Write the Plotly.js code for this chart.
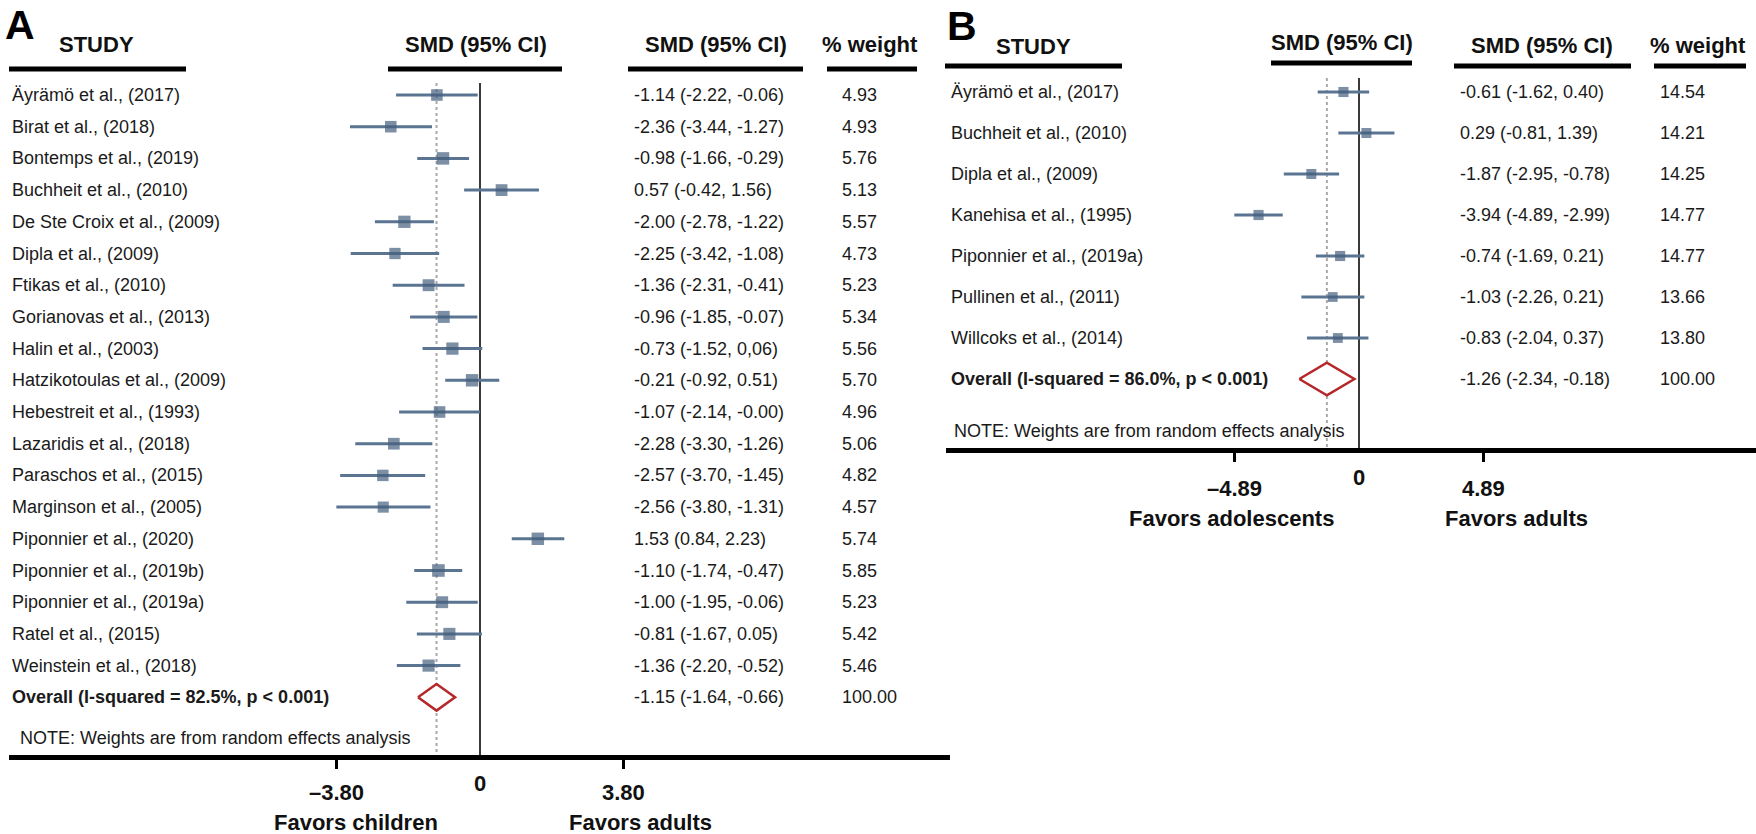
<!DOCTYPE html>
<html><head><meta charset="utf-8">
<script src="https://cdn.plot.ly/plotly-3.0.1.min.js"></script>
<style>html,body{margin:0;padding:0;background:#fff}#chart{width:1756px;height:834px}</style>
</head><body><div id="chart"></div>
<script>
// ---------------- Panel A data ----------------
const studiesA = ["Äyrämö et al., (2017)","Birat et al., (2018)","Bontemps et al., (2019)","Buchheit et al., (2010)","De Ste Croix et al., (2009)","Dipla et al., (2009)","Ftikas et al., (2010)","Gorianovas et al., (2013)","Halin et al., (2003)","Hatzikotoulas et al., (2009)","Hebestreit et al., (1993)","Lazaridis et al., (2018)","Paraschos et al., (2015)","Marginson et al., (2005)","Piponnier et al., (2020)","Piponnier et al., (2019b)","Piponnier et al., (2019a)","Ratel et al., (2015)","Weinstein et al., (2018)"];
const smdA  = [-1.14,-2.36,-0.98,0.57,-2.00,-2.25,-1.36,-0.96,-0.73,-0.21,-1.07,-2.28,-2.57,-2.56,1.53,-1.10,-1.00,-0.81,-1.36];
const lowA  = [-2.22,-3.44,-1.66,-0.42,-2.78,-3.42,-2.31,-1.85,-1.52,-0.92,-2.14,-3.30,-3.70,-3.80,0.84,-1.74,-1.95,-1.67,-2.20];
const highA = [-0.06,-1.27,-0.29,1.56,-1.22,-1.08,-0.41,-0.07,0.06,0.51,-0.00,-1.26,-1.45,-1.31,2.23,-0.47,-0.06,0.05,-0.52];
const weightA = [4.93,4.93,5.76,5.13,5.57,4.73,5.23,5.34,5.56,5.70,4.96,5.06,4.82,4.57,5.74,5.85,5.23,5.42,5.46];
const ciTextA = ["-1.14 (-2.22, -0.06)","-2.36 (-3.44, -1.27)","-0.98 (-1.66, -0.29)","0.57 (-0.42, 1.56)","-2.00 (-2.78, -1.22)","-2.25 (-3.42, -1.08)","-1.36 (-2.31, -0.41)","-0.96 (-1.85, -0.07)","-0.73 (-1.52, 0,06)","-0.21 (-0.92, 0.51)","-1.07 (-2.14, -0.00)","-2.28 (-3.30, -1.26)","-2.57 (-3.70, -1.45)","-2.56 (-3.80, -1.31)","1.53 (0.84, 2.23)","-1.10 (-1.74, -0.47)","-1.00 (-1.95, -0.06)","-0.81 (-1.67, 0.05)","-1.36 (-2.20, -0.52)"];
const overallLabelA = "Overall (I-squared = 82.5%, p < 0.001)";
const overallSmdA = -1.15, overallLowA = -1.64, overallHighA = -0.66, overallWeightA = 100.00;
const overallTextA = "-1.15 (-1.64, -0.66)";
const tickValsA = [-3.80, 3.80];
const tickTextA = ["–3.80", "3.80"];
const favorsA = ["Favors children", "Favors adults"];

// ---------------- Panel B data ----------------
const studiesB = ["Äyrämö et al., (2017)","Buchheit et al., (2010)","Dipla et al., (2009)","Kanehisa et al., (1995)","Piponnier et al., (2019a)","Pullinen et al., (2011)","Willcoks et al., (2014)"];
const smdB  = [-0.61,0.29,-1.87,-3.94,-0.74,-1.03,-0.83];
const lowB  = [-1.62,-0.81,-2.95,-4.89,-1.69,-2.26,-2.04];
const highB = [0.40,1.39,-0.78,-2.99,0.21,0.21,0.37];
const weightB = [14.54,14.21,14.25,14.77,14.77,13.66,13.80];
const ciTextB = ["-0.61 (-1.62, 0.40)","0.29 (-0.81, 1.39)","-1.87 (-2.95, -0.78)","-3.94 (-4.89, -2.99)","-0.74 (-1.69, 0.21)","-1.03 (-2.26, 0.21)","-0.83 (-2.04, 0.37)"];
const overallLabelB = "Overall (I-squared = 86.0%, p < 0.001)";
const overallSmdB = -1.26, overallLowB = -2.34, overallHighB = -0.18, overallWeightB = 100.00;
const overallTextB = "-1.26 (-2.34, -0.18)";
const tickValsB = [-4.89, 4.89];
const tickTextB = ["–4.89", "4.89"];
const favorsB = ["Favors adolescents", "Favors adults"];

const noteText = "NOTE: Weights are from random effects analysis";
const headers = ["STUDY", "SMD (95% CI)", "SMD (95% CI)", "% weight"];

// ---------------- layout geometry (pixels) ----------------
const W = 1756, H = 834;
const FONT = "Liberation Sans, Arial, Helvetica, sans-serif";
const TXT = "#1a1a1a";
const MARK = "#45607d", CIC = "#5a7491", DIA = "#b5282a";

const geoA = {zero:480, ppu:37.8, left:9, right:950, rowTop:95, rowStep:31.7, axisY:755,
  nameX:10, ciX:632, wX:840, noteX:18, noteY:738, lineTop:83, boxK:5.2, diaH:0.42,
  letter:"A", letterX:3, letterY:0,
  hdr:[{c:96, l:9, r:186, y:44, u:69},{c:476, l:388, r:562, y:44, u:69},{c:716, l:628, r:803, y:44, u:69},{c:870, l:827, r:917, y:44, u:69}],
  tickY:792, zeroY:783, favY:822, favX:[356, 640]};
const geoB = {zero:1359, ppu:25.5, left:946, right:1756, rowTop:92, rowStep:41, axisY:448,
  nameX:949, ciX:1458, wX:1658, noteX:952, noteY:431, lineTop:78, boxK:2.65, diaH:0.40,
  letter:"B", letterX:945, letterY:1,
  hdr:[{c:1033, l:945, r:1122, y:47, u:66},{c:1342, l:1271, r:1412, y:42, u:63},{c:1542, l:1454, r:1631, y:46, u:66},{c:1698, l:1654, r:1746, y:46, u:66}],
  tickY:488, zeroY:477, favY:518, favX:[1231, 1516]};

const PX = px => px / W;
const PY = px => 1 - px / H;

const traces = [], annotations = [], shapes = [];
const layout = {width:W, height:H, margin:{l:0,r:0,t:0,b:0}, paper_bgcolor:"#fff", plot_bgcolor:"rgba(0,0,0,0)",
  showlegend:false, font:{family:FONT, color:TXT}, annotations, shapes};

function panel(g, ax, studies, smd, low, high, weight, ciText, oLabel, oSmd, oLow, oHigh, oWeight, oText, tickVals, tickText, favors) {
  const xa = ax === 1 ? "x" : "x2", ya = ax === 1 ? "y" : "y2";
  const xkey = ax === 1 ? "xaxis" : "xaxis2", ykey = ax === 1 ? "yaxis" : "yaxis2";
  const rowOf = px => (px - g.rowTop) / g.rowStep;
  const yBottom = rowOf(g.axisY), yTop = rowOf(0);
  layout[xkey] = {domain:[PX(g.left), PX(g.right)], range:[(g.left - g.zero)/g.ppu, (g.right - g.zero)/g.ppu],
    anchor:ya, showgrid:false, zeroline:false, showline:true, linecolor:"#000", linewidth:5,
    ticks:"outside", tickvals:tickVals, ticklen:9, tickwidth:3, tickcolor:"#000", showticklabels:false, fixedrange:true};
  layout[ykey] = {domain:[1 - g.axisY/H, 1], range:[yBottom, yTop], anchor:xa, visible:false, fixedrange:true};

  const n = studies.length;
  const rows = studies.map((_, i) => i);
  const lineTopRow = rowOf(g.lineTop);
  traces.push({x:[oSmd, oSmd], y:[lineTopRow, yBottom], xaxis:xa, yaxis:ya, mode:"lines",
    line:{color:"#a9a9a9", width:2, dash:"dot"}, hoverinfo:"skip"});
  traces.push({x:[0, 0], y:[lineTopRow, yBottom], xaxis:xa, yaxis:ya, mode:"lines",
    line:{color:"#3a3a3a", width:2}, hoverinfo:"skip"});
  traces.push({x:smd, y:rows, xaxis:xa, yaxis:ya, mode:"markers",
    marker:{symbol:"square", size:weight.map(w => g.boxK*Math.sqrt(w)), color:MARK, line:{width:0}},
    error_x:{type:"data", symmetric:false, array:high.map((h,i)=>h - smd[i]), arrayminus:low.map((l,i)=>smd[i]-l),
      thickness:3, width:0, color:CIC}, hoverinfo:"skip"});
  const r = n;
  traces.push({x:[oLow, oSmd, oHigh, oSmd, oLow], y:[r, r - g.diaH, r, r + g.diaH, r], xaxis:xa, yaxis:ya,
    mode:"lines", fill:"toself", fillcolor:"#fff", line:{color:DIA, width:2.5}, hoverinfo:"skip"});

  const txt = (x, y, text, size, opts={}) => annotations.push(Object.assign({x, y, text, showarrow:false,
    xref:"paper", yref:ya, xanchor:"left", yanchor:"middle", font:{family:FONT, size, color:TXT}}, opts));
  studies.forEach((s, i) => {
    txt(PX(g.nameX), i, s, 18);
    txt(PX(g.ciX), i, ciText[i], 18);
    txt(PX(g.wX), i, weight[i].toFixed(2), 18);
  });
  txt(PX(g.nameX), r, "<b>" + oLabel + "</b>", 18);
  txt(PX(g.ciX), r, oText, 18);
  txt(PX(g.wX), r, oWeight.toFixed(2), 18);
  txt(PX(g.noteX), rowOf(g.noteY), noteText, 18);

  g.hdr.forEach((h, k) => {
    annotations.push({x:PX(h.c), y:PY(h.y), xref:"paper", yref:"paper", text:"<b>"+headers[k]+"</b>", showarrow:false,
      xanchor:"center", yanchor:"middle", font:{family:FONT, size:22, color:"#111"}});
    shapes.push({type:"line", xref:"paper", yref:"paper", x0:PX(h.l), x1:PX(h.r), y0:PY(h.u), y1:PY(h.u),
      line:{color:"#000", width:5}});
  });
  annotations.push({x:PX(g.letterX), y:PY(g.letterY), xref:"paper", yref:"paper", text:"<b>"+g.letter+"</b>",
    showarrow:false, xanchor:"left", yanchor:"top", font:{family:FONT, size:41, color:"#000"}});

  tickVals.forEach((v, k) => annotations.push({x:v, y:PY(g.tickY), xref:xa, yref:"paper", text:"<b>"+tickText[k]+"</b>",
    showarrow:false, xanchor:"center", yanchor:"middle", font:{family:FONT, size:22, color:"#111"}}));
  annotations.push({x:0, y:PY(g.zeroY), xref:xa, yref:"paper", text:"<b>0</b>", showarrow:false,
    xanchor:"center", yanchor:"middle", font:{family:FONT, size:22, color:"#111"}});
  favors.forEach((f, k) => annotations.push({x:PX(g.favX[k]), y:PY(g.favY), xref:"paper", yref:"paper", text:"<b>"+f+"</b>",
    showarrow:false, xanchor:"center", yanchor:"middle", font:{family:FONT, size:22, color:"#111"}}));
}

panel(geoA, 1, studiesA, smdA, lowA, highA, weightA, ciTextA, overallLabelA, overallSmdA, overallLowA, overallHighA, overallWeightA, overallTextA, tickValsA, tickTextA, favorsA);
panel(geoB, 2, studiesB, smdB, lowB, highB, weightB, ciTextB, overallLabelB, overallSmdB, overallLowB, overallHighB, overallWeightB, overallTextB, tickValsB, tickTextB, favorsB);

Plotly.newPlot("chart", traces, layout, {staticPlot:true, displayModeBar:false});
</script>
</body></html>
